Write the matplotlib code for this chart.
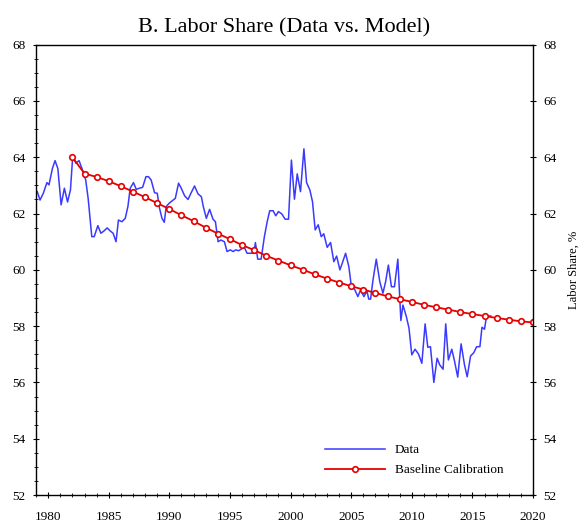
import numpy as np
import matplotlib
matplotlib.use("Agg")
import matplotlib.pyplot as plt
from matplotlib.ticker import MultipleLocator

plt.rcParams['font.family'] = ['Liberation Serif', 'DejaVu Serif']

# labor share data
data_t = [1979.1, 1979.33, 1979.6, 1979.9, 1980.07, 1980.35, 1980.57, 1980.8,
          1981.07, 1981.34, 1981.6, 1981.84, 1982.03, 1982.28, 1982.55, 1982.83,
          1983.1, 1983.3, 1983.6, 1983.8, 1984.1, 1984.35, 1984.6, 1984.87,
          1985.1, 1985.36, 1985.6, 1985.8, 1986.08, 1986.36, 1986.58, 1986.77,
          1987.04, 1987.27, 1987.52, 1987.79, 1988.07, 1988.28, 1988.5, 1988.78,
          1989.0, 1989.19, 1989.39, 1989.58, 1989.74, 1989.99, 1990.26, 1990.49,
          1990.76, 1990.98, 1991.26, 1991.54, 1991.8, 1992.08, 1992.36, 1992.64,
          1992.8, 1993.05, 1993.32, 1993.6, 1993.8, 1994.02, 1994.26, 1994.54,
          1994.76, 1995.03, 1995.26, 1995.47, 1995.7, 1995.92, 1996.13, 1996.41,
          1996.69, 1996.96, 1997.1, 1997.29, 1997.57, 1997.84, 1998.07, 1998.28,
          1998.56, 1998.78, 1999.0, 1999.27, 1999.55, 1999.83, 2000.07, 2000.32,
          2000.55, 2000.82, 2001.1, 2001.32, 2001.59, 2001.81, 2002.03, 2002.28,
          2002.53, 2002.74, 2003.02, 2003.3, 2003.57, 2003.8, 2004.07, 2004.26,
          2004.54, 2004.81, 2005.0, 2005.28, 2005.55, 2005.78, 2006.05, 2006.3,
          2006.45, 2006.6, 2006.8, 2007.07, 2007.36, 2007.62, 2007.84, 2008.07,
          2008.32, 2008.57, 2008.85, 2009.1, 2009.27, 2009.55, 2009.77, 2010.0,
          2010.27, 2010.55, 2010.83, 2011.1, 2011.32, 2011.54, 2011.82, 2012.09,
          2012.31, 2012.58, 2012.8, 2013.02, 2013.3, 2013.52, 2013.79, 2014.07,
          2014.35, 2014.57, 2014.85, 2015.12, 2015.35, 2015.62, 2015.79, 2016.0,
          2016.17, 2016.52]
data_v = [62.78, 62.48, 62.72, 63.1, 63.02, 63.6, 63.88, 63.6,
          62.31, 62.9, 62.41, 62.84, 64.05, 63.79, 63.88, 63.55,
          63.19, 62.54, 61.18, 61.18, 61.57, 61.3, 61.38, 61.49,
          61.39, 61.3, 61.0, 61.77, 61.71, 61.83, 62.25, 62.9,
          63.1, 62.86, 62.9, 62.93, 63.31, 63.31, 63.19, 62.74,
          62.72, 62.19, 61.83, 61.69, 62.25, 62.37, 62.46, 62.54,
          63.08, 62.9, 62.63, 62.5, 62.74, 62.98, 62.7, 62.6,
          62.25, 61.83, 62.15, 61.8, 61.71, 61.0, 61.06, 61.0,
          60.65, 60.71, 60.65, 60.71, 60.68, 60.73, 60.85, 60.59,
          60.59, 60.59, 60.97, 60.38, 60.38, 61.18, 61.71, 62.1,
          62.1, 61.92, 62.07, 61.99, 61.8, 61.8, 63.9, 62.51,
          63.41, 62.78, 64.3, 63.1, 62.84, 62.42, 61.42, 61.6,
          61.18, 61.28, 60.8, 60.97, 60.29, 60.49, 60.0, 60.23,
          60.59, 60.11, 59.46, 59.31, 59.05, 59.29, 59.05, 59.25,
          58.96, 58.96, 59.64, 60.38, 59.58, 59.17, 59.58, 60.17,
          59.4, 59.4, 60.38, 58.2, 58.75, 58.34, 57.93, 56.98,
          57.18, 57.01, 56.68, 58.08, 57.25, 57.27, 56.0, 56.86,
          56.62, 56.47, 58.08, 56.8, 57.18, 56.77, 56.19, 57.37,
          56.62, 56.2, 56.94, 57.06, 57.27, 57.27, 57.96, 57.89,
          58.36, 58.36]

# baseline calibration (model), annual
model_years = np.arange(1982, 2021)
model_v = [64.0, 63.42, 63.30, 63.15, 62.97, 62.78, 62.58, 62.37, 62.16, 61.94,
           61.73, 61.50, 61.29, 61.09, 60.88, 60.70, 60.50, 60.33, 60.16, 60.01,
           59.84, 59.69, 59.55, 59.42, 59.30, 59.18, 59.06, 58.96, 58.86, 58.76,
           58.67, 58.59, 58.50, 58.43, 58.36, 58.29, 58.23, 58.17, 58.13]

fig = plt.figure(figsize=(5.82, 5.25), dpi=100)
ax = fig.add_axes([0.0619, 0.0571, 0.8539, 0.8578])

ax.plot(data_t, data_v, color='#3a3aff', lw=1.1, label='Data')
ax.plot(model_years, model_v, color='#e60000', lw=1.3, marker='o', ms=4,
        mfc='white', mec='#e60000', mew=1.2, label='Baseline Calibration')

ax.set_xlim(1979, 2020)
ax.set_ylim(52, 68)
ax.xaxis.set_major_locator(MultipleLocator(5))
ax.xaxis.set_minor_locator(MultipleLocator(1))
ax.yaxis.set_major_locator(MultipleLocator(2))
ax.yaxis.set_minor_locator(MultipleLocator(0.5))

ax.tick_params(axis='x', which='major', direction='inout', length=5, labelsize=9.5, pad=9)
ax.tick_params(axis='x', which='minor', direction='inout', length=2.5)
ax.tick_params(axis='y', which='major', direction='inout', length=5, labelsize=9.5,
               right=True, labelright=True, pad=5)
ax.tick_params(axis='y', which='minor', direction='inout', length=2.5)

for s in ax.spines.values():
    s.set_linewidth(1.0)

ax.yaxis.set_label_position('right')
ax.set_ylabel('Labor Share, %', fontsize=9, labelpad=8)

ax.set_title('B. Labor Share (Data vs. Model)', fontsize=16, pad=9)

ax.legend(loc='lower right', bbox_to_anchor=(0.965, 0.015), frameon=False,
          fontsize=9.5, numpoints=1, handlelength=4.5, handletextpad=0.8,
          labelspacing=0.6)

fig.savefig('out.png', dpi=100)
